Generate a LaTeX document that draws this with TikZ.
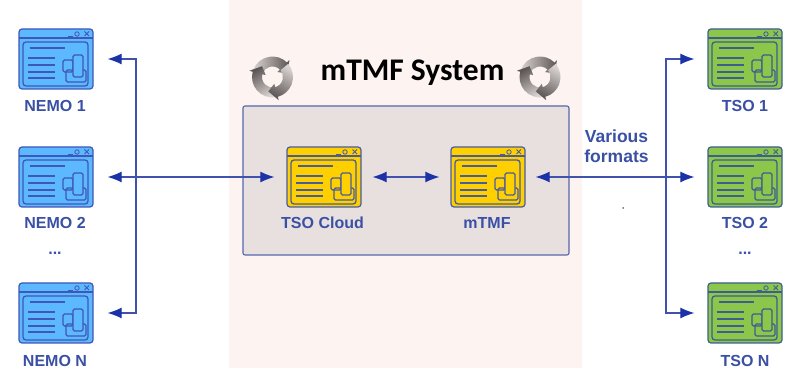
\documentclass[tikz,border=0pt]{standalone}
\usepackage{fontspec}
\setmainfont{Liberation Sans}
\newfontfamily\titlefont{Carlito}
\usetikzlibrary{arrows.meta}
\definecolor{panelpink}{HTML}{FDF3F1}
\definecolor{boxgrey}{HTML}{E8E0DF}
\definecolor{boxline}{HTML}{5566AE}
\definecolor{linkblue}{HTML}{4152AE}
\definecolor{tipblue}{HTML}{1C33A8}
\definecolor{tagblue}{HTML}{3A50A4}
\definecolor{nemofill}{HTML}{5CB8FF}
\definecolor{nemoline}{HTML}{3F57B8}
\definecolor{tsofill}{HTML}{8CC64A}
\definecolor{tsoline}{HTML}{3D5F90}
\definecolor{corefill}{HTML}{FFD000}
\definecolor{coreline}{HTML}{4A5CA0}
\definecolor{turndark}{HTML}{5A5454}
\definecolor{turnlight}{HTML}{D8D2D0}
\tikzset{
  iconbox/.style={draw, line width=1.2pt, rounded corners=3pt, minimum width=74pt, minimum height=60pt, inner sep=0pt},
  tag/.style={font=\bfseries\fontsize{16}{18}\selectfont, text=tagblue, inner sep=0pt},
  link/.style={draw=linkblue, line width=1.1pt, shorten <=14pt, shorten >=14pt,
    {Latex[length=14pt,width=11pt,color=tipblue]}-{Latex[length=14pt,width=11pt,color=tipblue]}},
}
% #1 name, #2 x, #3 y, #4 fill, #5 line
\newcommand{\appicon}[5]{
  \node[iconbox, draw=#5, fill=#4] (#1) at (#2,#3) {};
  \begin{scope}[shift={(#2,#3)}, draw=#5, line width=1.3pt]
    \draw (-37,21) -- (37,21);
    \draw[rounded corners=3pt] (-33,-27) rectangle (32,17);
    \draw (-26,11) -- (9,11);
    \draw (-28,1) -- (-1,1);
    \draw (-28,-6) -- (-1,-6);
    \draw (-28,-13) -- (-1,-13);
    \draw (-28,-19) -- (-1,-19);
    \draw[rounded corners=1.5pt] (7,-13) rectangle (17,-1);
    \draw[rounded corners=1.5pt] (10,-23) rectangle (30,-11);
    \draw[rounded corners=1.5pt, fill=#4] (17,-18) rectangle (27,4);
    \draw (12,22) -- (17,22);
    \draw[line width=0.8pt] (21,25) circle (2.2pt);
    \draw[line width=0.8pt] (28.5,23) -- (33,27.5) (28.5,27.5) -- (33,23);
  \end{scope}
}
% three round arrows
\newcommand{\turnmark}[2]{
  \begin{scope}[shift={(#1,#2)}]
    \foreach \ang [evaluate=\ang as \shadeang using \ang-90] in {0,120,240}
      \shade[top color=turndark, bottom color=turnlight, shading angle=\shadeang, rotate=\ang]
        (160:20.5pt) arc (160:45:20.5pt) -- (45:24pt) -- (14:15pt) -- (45:7pt) -- (45:10.5pt) arc (45:160:10.5pt) -- cycle;
  \end{scope}
}

\begin{document}
\begin{tikzpicture}[x=1pt, y=1pt]
    \useasboundingbox (0,0) rectangle (793,375);
    \fill[panelpink] (229,7) rectangle (582,375);
    \node[draw=boxline, fill=boxgrey, line width=1.1pt, rounded corners=2pt, minimum width=326pt, minimum height=149pt, inner sep=0pt] (system) at (406,194.5) {};
    \node[font=\titlefont\bfseries\fontsize{31.5}{33}\selectfont, inner sep=0pt] (title) at (412.5,302.5) {mTMF System};
    \turnmark{272.5}{298}
    \turnmark{540}{298}

    \appicon{nemo1}{56}{316}{nemofill}{nemoline}
    \appicon{nemo2}{56}{198}{nemofill}{nemoline}
    \appicon{nemoN}{56}{62}{nemofill}{nemoline}
    \appicon{tso1}{745}{316}{tsofill}{tsoline}
    \appicon{tso2}{745}{198}{tsofill}{tsoline}
    \appicon{tsoN}{745}{62}{tsofill}{tsoline}
    \appicon{cloud}{324}{198}{corefill}{coreline}
    \appicon{mtmf}{488}{198}{corefill}{coreline}

    \node[tag] (nemo1tag) at (55,269) {NEMO 1};
    \node[tag] (nemo2tag) at (55,152) {NEMO 2};
    \node[tag] (nemodots) at (55,122) {...};
    \node[tag] (nemoNtag) at (55,14) {NEMO N};
    \node[tag] (tso1tag) at (745,269) {TSO 1};
    \node[tag] (tso2tag) at (745,152) {TSO 2};
    \node[tag] (tsodots) at (745,122) {...};
    \node[tag] (tsoNtag) at (745,14) {TSO N};
    \node[tag] (cloudtag) at (322.5,152) {TSO Cloud};
    \node[tag] (mtmftag) at (487,152) {mTMF};
    \node[tag, align=center, font=\bfseries\fontsize{17.5}{20}\selectfont] (formats) at (616.5,229) {Various\\formats};
    \node[inner sep=0pt, minimum size=1.5pt, fill=black, circle] (speck) at (623,167) {};

    \coordinate (leftup) at (136,316);
    \coordinate (leftdown) at (136,62);
    \coordinate (rightup) at (666,316);
    \coordinate (rightdown) at (666,62);

    \draw[link] (nemo1) -- (leftup) -- (leftdown) -- (nemoN);
    \draw[link, shorten >=12pt] (nemo2) -- (cloud);
    \draw[link, shorten <=11pt, shorten >=11pt] (cloud) -- (mtmf);
    \draw[link, shorten <=10pt, shorten >=13pt] (mtmf) -- (tso2);
    \draw[link, shorten <=13pt, shorten >=13pt] (tso1) -- (rightup) -- (rightdown) -- (tsoN);
\end{tikzpicture}
\end{document}
